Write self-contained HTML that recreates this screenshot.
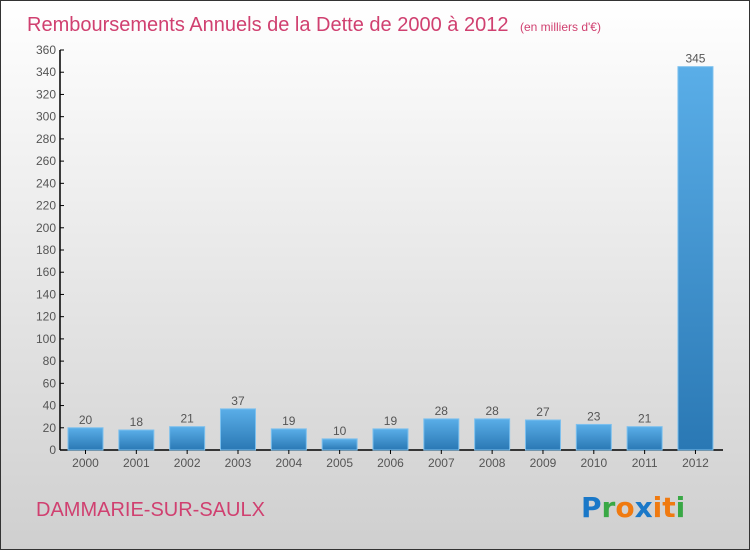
<!DOCTYPE html>
<html><head><meta charset="utf-8"><style>
body{margin:0}
#c{position:relative;width:750px;height:550px;box-sizing:border-box;border:1px solid #333;background:linear-gradient(#ffffff,#cfcfcf);font-family:"Liberation Sans",sans-serif;overflow:hidden}
</style></head><body>
<div id="c">
<svg width="748" height="548" style="position:absolute;left:0;top:0" id="svg">
<defs><linearGradient id="g" x1="0" y1="0" x2="0" y2="1"><stop offset="0" stop-color="#5aaee8"/><stop offset="1" stop-color="#2a78b4"/></linearGradient></defs>
<text x="26" y="30" font-size="20" fill="#d04070">Remboursements Annuels de la Dette de 2000 à 2012 <tspan font-size="12" dx="6">(en milliers d'€)</tspan></text>
<text x="35" y="515" font-size="20" fill="#d04070">DAMMARIE-SUR-SAULX</text>
<g font-size="28" font-weight="bold" font-family="'DejaVu Sans',sans-serif">
<text x="580" y="516"><tspan fill="#1a78c8">P</tspan><tspan fill="#39a845">r</tspan><tspan fill="#f07a10">o</tspan><tspan fill="#1a78c8">x</tspan><tspan fill="#f07a10">i</tspan><tspan fill="#f07a10">t</tspan><tspan fill="#39a845">i</tspan></text></g>
<g id="plot"></g>
</svg>
</div>
<script>
const categories=["2000","2001","2002","2003","2004","2005","2006","2007","2008","2009","2010","2011","2012"];
const values=[20,18,21,37,19,10,19,28,28,27,23,21,345];
const ticks=[0,20,40,60,80,100,120,140,160,180,200,220,240,260,280,300,320,340,360];
const NS="http://www.w3.org/2000/svg";
const g=document.getElementById('plot');
const y=v=>449-v*(400/360);
const x=i=>84.5+i*50.83;
function el(t,a,txt){const e=document.createElementNS(NS,t);for(const k in a)e.setAttribute(k,a[k]);if(txt!=null)e.textContent=txt;g.appendChild(e);return e;}
let ax=el('line',{x1:59,y1:49,x2:59,y2:449,stroke:'#000','stroke-width':1.5});


let xx=el('line',{x1:59,y1:449,x2:722,y2:449,stroke:'#000','stroke-width':1.5});


ticks.forEach(t=>{
 el('line',{x1:59,y1:y(t),x2:63,y2:y(t),stroke:'#000'});
 const l=el('text',{x:55,y:y(t)+4,'font-size':12,fill:'#555','text-anchor':'end'},t);
 
 
});
categories.forEach((c,i)=>{
 const v=values[i];
 const b=el('rect',{x:x(i)-17.5,y:y(v),width:35,height:449-y(v),fill:'url(#g)',stroke:'#7cc0ee','stroke-width':1});
 
 
 el('line',{x1:x(i),y1:449,x2:x(i),y2:453,stroke:'#000'});
 const l=el('text',{x:x(i),y:466,'font-size':12,fill:'#555','text-anchor':'middle'},c);
 
 
 const vl=el('text',{x:x(i),y:y(v)-4,'font-size':12,fill:'#555','text-anchor':'middle'},v);
 
 
});
</script>
</body></html>
